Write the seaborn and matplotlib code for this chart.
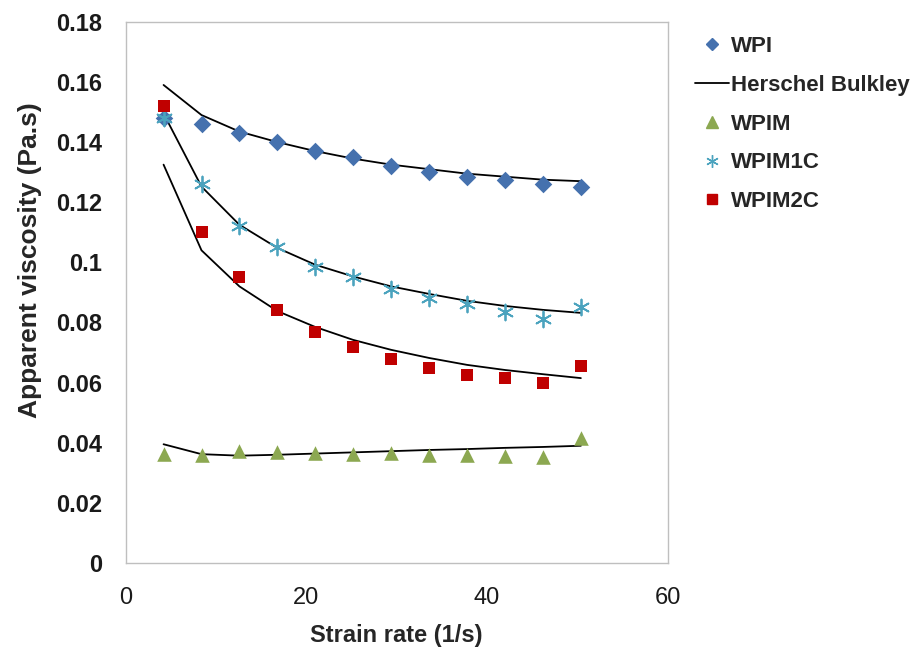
import pandas as pd
import matplotlib.pyplot as plt
import seaborn as sns
from matplotlib.lines import Line2D

# strain rate (1/s)
strain_rate = [4.2, 8.4, 12.6, 16.8, 21.0, 25.2, 29.4, 33.6, 37.8, 42.0, 46.2, 50.4]

# measured apparent viscosity (Pa.s)
wpi = [0.148, 0.146, 0.143, 0.140, 0.137, 0.135, 0.132, 0.130, 0.1285, 0.1275, 0.126, 0.125]
wpim = [0.0362, 0.036, 0.0372, 0.0368, 0.0366, 0.0364, 0.0366, 0.036, 0.036, 0.0355, 0.0353, 0.0415]
wpim1c = [0.148, 0.126, 0.112, 0.105, 0.0985, 0.095, 0.091, 0.088, 0.086, 0.0835, 0.081, 0.085]
wpim2c = [0.152, 0.110, 0.095, 0.084, 0.077, 0.072, 0.068, 0.065, 0.0625, 0.0615, 0.060, 0.0655]

# Herschel Bulkley fits
hb_wpi = [0.159, 0.149, 0.1435, 0.140, 0.137, 0.1345, 0.1325, 0.131, 0.1295, 0.1285, 0.1275, 0.127]
hb_wpim = [0.0395, 0.0362, 0.0357, 0.036, 0.0364, 0.0368, 0.0372, 0.0376, 0.0379, 0.0383, 0.0386, 0.039]
hb_wpim1c = [0.1495, 0.1252, 0.1125, 0.1048, 0.0992, 0.0953, 0.092, 0.0895, 0.0872, 0.0855, 0.0842, 0.0832]
hb_wpim2c = [0.1325, 0.104, 0.092, 0.0838, 0.0785, 0.0742, 0.0709, 0.0682, 0.0659, 0.0642, 0.0628, 0.0615]

sns.set_theme(style="white")
plt.rcParams['font.family'] = ['Liberation Sans', 'DejaVu Sans']

fig = plt.figure(figsize=(9.17, 6.52), dpi=100)
ax = fig.add_axes([0.137, 0.1365, 0.591, 0.83])

# fitted curves (black)
for fit in [hb_wpi, hb_wpim, hb_wpim1c, hb_wpim2c]:
    sns.lineplot(x=strain_rate, y=fit, ax=ax, color='black', linewidth=1.3, legend=False)

series = [
    ('WPI', wpi, 'D', '#4571AE', 80),
    ('WPIM', wpim, '^', '#8CA851', 110),
    ('WPIM1C', wpim1c, (6, 2, 0), '#4BA3BE', 130),
    ('WPIM2C', wpim2c, 's', '#C00000', 85),
]
for name, vals, mk, col, sz in series:
    if mk == (6, 2, 0):
        sns.scatterplot(x=strain_rate, y=vals, ax=ax, marker=mk, s=sz, color=col,
                        linewidth=1.3, edgecolor=col, zorder=3, legend=False)
    else:
        sns.scatterplot(x=strain_rate, y=vals, ax=ax, marker=mk, s=sz, color=col,
                        linewidth=0, zorder=3, legend=False)

ax.set_xlim(0, 60)
ax.set_ylim(0, 0.18)
ax.set_xticks([0, 20, 40, 60])
ax.set_yticks([0, 0.02, 0.04, 0.06, 0.08, 0.1, 0.12, 0.14, 0.16, 0.18])
ax.set_yticklabels(['0', '0.02', '0.04', '0.06', '0.08', '0.1', '0.12', '0.14', '0.16', '0.18'],
                   fontweight='bold')
ax.tick_params(axis='both', labelsize=17, length=0, colors='#1a1a1a')
ax.tick_params(axis='x', pad=17)
ax.tick_params(axis='y', pad=17)
for lab in ax.get_xticklabels():
    lab.set_fontweight('normal')

ax.set_xlabel('Strain rate (1/s)', fontsize=17, fontweight='bold', labelpad=11)
ax.set_ylabel('Apparent viscosity (Pa.s)', fontsize=19, fontweight='bold', labelpad=10)
ax.yaxis.label.set_y(0.56)

for sp in ax.spines.values():
    sp.set_color('#BFBFBF')
    sp.set_linewidth(1.0)

handles = [
    Line2D([], [], linestyle='none', marker='D', color='#4571AE', markersize=6),
    Line2D([], [], color='black', linewidth=1.3),
    Line2D([], [], linestyle='none', marker='^', color='#8CA851', markersize=8),
    Line2D([], [], linestyle='none', marker=(6, 2, 0), color='#4BA3BE', markersize=9, markeredgewidth=1),
    Line2D([], [], linestyle='none', marker='s', color='#C00000', markersize=7),
]
labels = ['WPI', 'Herschel Bulkley', 'WPIM', 'WPIM1C', 'WPIM2C']
leg = ax.legend(handles, labels, loc='upper left', bbox_to_anchor=(1.035, 0.99),
                frameon=False, prop={'size': 16, 'weight': 'bold'},
                labelspacing=0.8, handlelength=1.5, handletextpad=0.1, borderaxespad=0)

fig.savefig('out.png', dpi=100)
